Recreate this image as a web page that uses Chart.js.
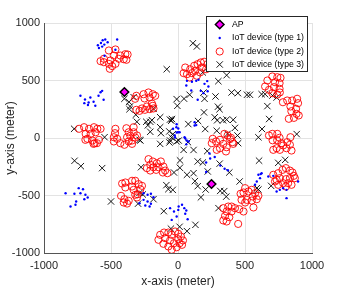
<!DOCTYPE html>
<html><head><meta charset="utf-8">
<script src="https://cdn.jsdelivr.net/npm/chart.js@4"></script>
<style>html,body{margin:0;padding:0;background:#fff;overflow:hidden}</style>
</head><body>
<canvas id="c" width="346" height="294" style="width:346px;height:294px;display:block"></canvas>
<script>
const xTicks = [-1000, -500, 0, 500, 1000];
const yTicks = [-1000, -500, 0, 500, 1000];
const seriesNames = ['AP', 'IoT device (type 1)', 'IoT device (type 2)', 'IoT device (type 3)'];

const apPoints = [[-400,400],[250,-400]];

const type1Points = [
  [-598,807],[-575,826],[-562,850],[-543,856],[-525,833],[-550,812],[-566,795],[-590,782],[-454,856],[-467,767],[-548,715],
  [-728,367],[-694,335],[-667,309],[-654,352],[-630,315],[-617,280],[-672,287],[-699,303],[-593,367],[-578,398],[-566,410],[-555,332],
  [67,497],[104,489],[136,497],[153,506],[218,495],[227,448],[221,407],[190,390],[147,332],[170,410],[62,457],[99,413],[198,471],
  [-37,80],[-12,94],[-10,120],[2,83],[0,50],[12,50],[-10,48],[-24,22],[-22,4],[49,7],[54,-2],[79,-30],[65,-22],[62,-55],[124,109],[136,112],[124,137],
  [235,-135],[274,-165],[240,-178],[210,-213],[210,-295],[316,-240],[348,-268],[372,-280],
  [-257,-480],[-227,-494],[-202,-485],[-183,-515],[-257,-538],[-227,-552],[-202,-572],[-244,-587],[-212,-596],[-287,-567],
  [-59,-610],[-30,-639],[-10,-683],[-47,-712],[2,-625],[5,-596],[30,-581],[47,-610],[62,-630],[54,-659],[72,-706],
  [-839,-480],[-773,-485],[-741,-436],[-709,-445],[-728,-480],[-691,-494],[-674,-517],[-699,-532],[-760,-552],[-765,-581],[-802,-596],
  [624,-306],[612,-349],[674,-335],[711,-329],[736,-465],[760,-451],[785,-436],[810,-451],[810,-523],[896,-378],[588,-378],[575,-407],[600,-320],[617,-314]
];

const type2Points = [
  [-553,689],[-516,761],[-467,770],[-479,717],[-516,645],[-467,645],[-430,717],[-385,680],[-376,726],[-553,659],[-578,668],[-504,674],[-442,689],[-509,602],[-491,625],[-393,729],[-405,685],
  [-311,367],[-257,381],[-220,396],[-188,381],[-170,367],[-212,352],[-250,344],[-195,300],[-188,280],[-232,274],[-269,257],[-287,236],[-311,245],[-247,245],[-210,251],[-183,257],[-320,341],
  [-738,80],[-701,94],[-664,80],[-627,94],[-602,80],[-578,80],[-689,36],[-652,36],[-615,50],[-676,-7],[-639,-22],[-622,-45],[-590,-16],[-691,-16],[-630,-51],[-605,-45],
  [-467,80],[-470,42],[-479,7],[-454,-7],[-479,-30],[-430,-45],[-400,-59],[-385,85],[-368,50],[-331,94],[-331,50],[-319,4],[-380,7],[-356,19],[-343,-22],[-306,22],[-368,-30],[-343,-51],
  [54,613],[91,598],[121,628],[146,642],[170,657],[195,663],[220,642],[178,613],[128,584],[104,564],[67,555],[42,564],[87,526],[141,541],[165,570],[210,598],
  [667,500],[704,535],[741,529],[765,523],[724,485],[758,477],[650,448],[679,419],[704,390],[741,378],[758,428],[716,442],[783,311],[815,326],[852,326],[889,341],[896,303],[839,274],[846,233],[881,254],[884,210],[827,167],[865,175],[901,196],[760,396],
  [679,22],[704,36],[741,36],[758,2],[706,-20],[740,-20],[839,7],[815,-36],[772,-45],[785,-65],[736,-89],[711,-103],[760,-103],[810,-89],[847,-109],[835,-59],
  [748,-306],[780,-277],[805,-262],[835,-283],[854,-300],[864,-329],[872,-349],[835,-349],[805,-358],[822,-393],[847,-407],[785,-393],[736,-364],[711,-320],[724,-378],[748,-407],[805,-422],[760,-349],
  [501,-436],[489,-474],[526,-465],[550,-451],[575,-480],[600,-503],[588,-532],[558,-509],[513,-538],[550,-544],[501,-561],[563,-604],[489,-639],[474,-538],[467,-485],
  [338,-610],[375,-596],[400,-596],[425,-610],[457,-619],[363,-639],[400,-639],[351,-677],[383,-689],[338,-717],[363,-726],[449,-747],
  [252,-45],[284,-30],[313,-16],[338,-51],[363,-80],[313,-89],[289,-103],[358,-117],[388,-10],[412,-51],[259,-7],[346,36],[370,22],[395,2],[407,-36],
  [-220,-184],[-188,-204],[-158,-219],[-128,-204],[-207,-233],[-183,-254],[-146,-254],[-109,-248],[-96,-283],[-113,-300],[-79,-306],[-232,-262],[-207,-283],[-163,-277],
  [-417,-396],[-393,-387],[-343,-372],[-319,-372],[-294,-401],[-269,-416],[-281,-445],[-393,-430],[-425,-503],[-400,-532],[-368,-546],[-405,-561],[-380,-570],[-306,-517],[-302,-489],[-343,-422],[-331,-451],[-319,-494],
  [-133,-842],[-104,-822],[-72,-822],[-47,-842],[-22,-813],[2,-833],[-96,-871],[-59,-891],[-30,-915],[-10,-950],[-72,-943],[-47,-972],[-109,-920],[-146,-885],[2,-880],[22,-857],[37,-891],[12,-915],[30,-929]
];

const type3Points = [
  [111,824],[141,796],[-84,598],[363,546],[301,494],[185,570],
  [-400,341],[-365,313],[-331,355],[-358,275],[-362,250],[-315,202],
  [-307,141],[-237,141],[-207,141],[-195,155],[-225,110],[-133,181],[-60,160],[-45,165],[-50,150],
  [-10,338],[-5,280],[-183,254],[-133,94],[-65,57],[-127,42],[-207,54],[-39,33],[-47,4],[-281,-22],[-59,-22],
  [-775,80],[-548,7],
  [45,342],[87,376],[190,395],[198,341],[280,361],[298,272],[310,250],[194,223],[274,180],[292,154],[336,154],[363,160],[412,158],[150,148],[77,121],[203,78],[289,63],[425,88],[400,396],[447,390],[370,36],[444,22],[74,-36],
  [515,376],[537,376],[624,381],[650,381],[705,369],[736,352],[667,277],[680,165],[627,78],[600,6],[886,34],
  [-772,-198],[-725,-245],[-566,-262],[-500,-552],[-287,-16],[-133,-51],[-64,-39],[-10,-30],[-276,-254],[-30,-300],[-87,-410],[-72,-445],[-39,-451],[-287,-477],[-263,-491],[-183,-532],[-298,-571],[-106,-636],[-53,-788],
  [5,-22],[42,-103],[116,-104],[218,-114],[15,-195],[14,-259],[147,-204],[185,-213],[222,-291],[311,-223],[383,-300],[67,-320],[116,-306],[126,-375],[147,-419],[206,-448],[315,-460],[345,-462],[360,-510],[171,-516],[302,-610],[460,-378],[449,-45],[12,-772],[67,-810],[130,-755],
  [605,-197],[748,-216],[800,-190],[695,-416],[588,-436],[600,-448]
];

const FONT = "'Liberation Sans', Arial, Helvetica, sans-serif";
const toXY = a => a.map(p => ({x: p[0], y: p[1]}));

const boxLegend = {
  id: 'boxLegend',
  afterDraw(chart) {
    const ctx = chart.ctx;
    const x0 = 206.5, y0 = 16.5, w = 101, h = 55;
    ctx.save();
    ctx.fillStyle = '#fff';
    ctx.fillRect(x0, y0, w, h);
    ctx.strokeStyle = '#262626';
    ctx.lineWidth = 1;
    ctx.strokeRect(x0, y0, w, h);
    const rows = [24.5, 38, 51.5, 64.5];
    chart.data.datasets.forEach((ds, i) => {
      const y = rows[i];
      ctx.save();
      ctx.fillStyle = ds.backgroundColor;
      ctx.strokeStyle = ds.borderColor;
      ctx.lineWidth = ds.borderWidth;
      Chart.helpers.drawPoint(ctx, {pointStyle: ds.pointStyle, radius: ds.pointRadius, borderWidth: ds.borderWidth, rotation: 0}, 219.7, y);
      ctx.restore();
      ctx.fillStyle = '#000';
      ctx.font = '8.7px ' + FONT;
      ctx.textBaseline = 'middle';
      ctx.textAlign = 'left';
      ctx.fillText(ds.label, 232, y);
    });
    ctx.restore();
  }
};

const axisCommon = (ticksArr, title) => ({
  type: 'linear', min: -1000, max: 1000,
  afterBuildTicks: s => { s.ticks = ticksArr.map(v => ({value: v})); },
  grid: {color: '#e3e3e3', lineWidth: 1, drawTicks: false},
  border: {display: true, color: '#555', width: 1},
  ticks: {color: '#262626', font: {family: FONT, size: 11}, callback: v => String(v)},
  title: {display: true, text: title, color: '#262626', font: {family: FONT, size: 12}}
});

const xAxis = axisCommon(xTicks, 'x-axis (meter)');
xAxis.ticks.padding = 6;
xAxis.title.padding = {top: 0, bottom: 5};
xAxis.afterFit = s => { s.height = 41; };
const yAxis = axisCommon(yTicks, 'y-axis (meter)');
yAxis.ticks.padding = 4;
yAxis.title.padding = {top: 3, bottom: 0};
yAxis.afterFit = s => { s.width = 44; };

new Chart(document.getElementById('c'), {
  type: 'scatter',
  data: {
    datasets: [
      {label: seriesNames[0], data: toXY(apPoints), pointStyle: 'rectRot', pointRadius: 4.3, backgroundColor: '#ff00ff', borderColor: '#000000', borderWidth: 1.5},
      {label: seriesNames[1], data: toXY(type1Points), pointStyle: 'circle', pointRadius: 1.2, backgroundColor: '#0000ff', borderColor: '#0000ff', borderWidth: 0},
      {label: seriesNames[2], data: toXY(type2Points), pointStyle: 'circle', pointRadius: 3.6, backgroundColor: 'rgba(0,0,0,0)', borderColor: '#ff0000', borderWidth: 0.9},
      {label: seriesNames[3], data: toXY(type3Points), pointStyle: 'crossRot', pointRadius: 4.5, backgroundColor: 'rgba(0,0,0,0)', borderColor: '#000000', borderWidth: 0.9}
    ]
  },
  options: {
    responsive: false, animation: false, devicePixelRatio: 1,
    layout: {padding: {left: 0, right: 34, top: 23, bottom: 0}},
    plugins: {legend: {display: false}, tooltip: {enabled: false}},
    scales: {x: xAxis, y: yAxis}
  },
  plugins: [boxLegend]
});
</script>
</body></html>
